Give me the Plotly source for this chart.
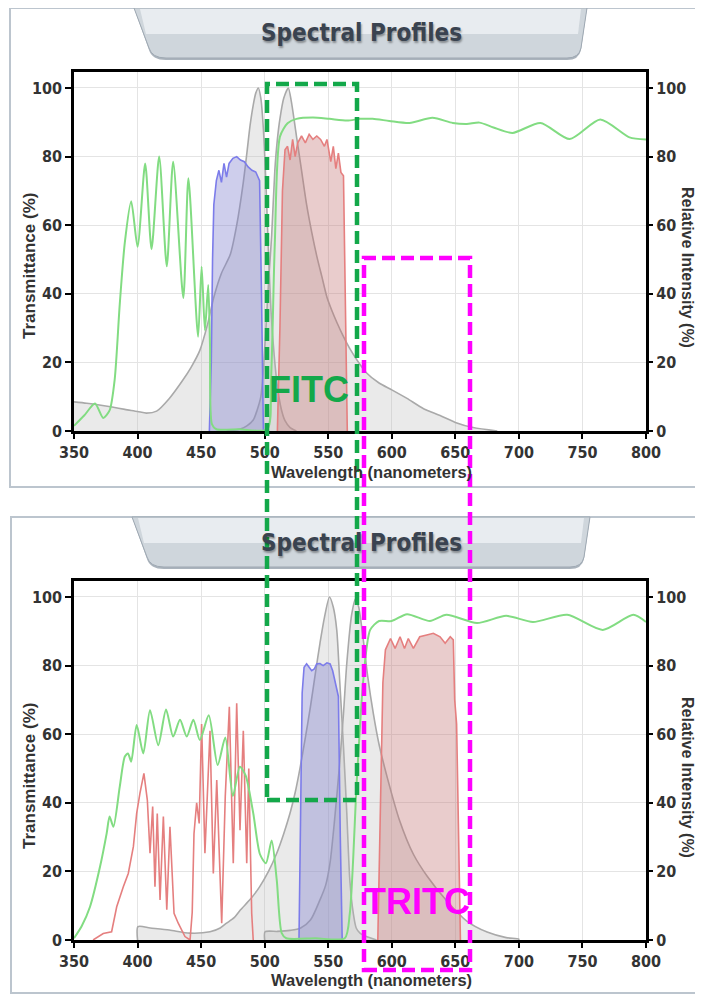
import plotly.graph_objects as go

# the page body adds an 8px margin, so the figure is drawn 8px in from the window corner
OX, OY = 8, 8
W, H = 703 - OX, 996 - OY

# ---------------- data (wavelength nm / percent) ----------------
# top chart: FITC filter set
fitc_abs_nm = [350, 360, 370, 380, 390, 400, 407, 415, 425, 435, 442, 449, 455, 460, 466, 473, 478, 483, 486,
               488.5, 491, 493, 495, 497, 499, 501, 503, 505, 507.5, 510, 513, 516, 520, 525]
fitc_abs_val = [8.5, 8.1, 7.6, 7.0, 6.3, 5.7, 5.2, 5.8, 9.5, 14.5, 18.5, 23.5, 31, 39, 46, 51.5, 60, 72, 81,
                89, 95, 98.5, 100, 97, 88, 72, 52, 35, 22, 13, 6.5, 3, 1, 0]

fitc_em_nm = [470, 480, 486, 491, 494, 497, 499, 501, 503, 505.5, 508, 510, 512, 515, 518.6, 521, 525, 529, 533,
              537, 541, 545, 549, 553, 557, 562, 567, 573, 580, 590, 600, 612, 625, 638, 650, 664, 683]
fitc_em_val = [0, 0.5, 1.5, 3.2, 6, 10, 18, 30, 43, 57, 76, 85, 91, 97, 100, 96, 86, 76, 66,
               58, 51, 45, 39, 35, 31.5, 27.5, 24, 20.5, 17, 14, 12, 9.5, 6.5, 4.5, 2.5, 1, 0]

fitc_ex_nm = [456.5, 458, 459, 460, 462, 464, 466, 468, 470, 472, 475, 478, 481, 484, 487, 490, 493, 496, 497.5, 499]
fitc_ex_val = [0, 20, 50, 66, 73, 76, 72.5, 78, 74, 78, 79.5, 80, 79, 78.5, 77, 76, 75.5, 73, 40, 0]

fitc_bf_nm = [510, 512, 514, 516, 518, 520, 522, 524, 526, 529, 532, 535, 538, 541, 544, 547, 549, 552, 554,
              556, 558, 560, 562, 563.5, 565]
fitc_bf_val = [0, 30, 70, 82, 83, 79, 85, 80, 84, 86, 84, 86.5, 85, 86, 85, 83, 85, 78.5, 83,
               76.5, 81, 75.4, 74.4, 40, 0]

fitc_dm_nm = [350, 358, 366.5, 373, 378, 382, 386, 390, 395, 400, 406, 411, 417, 423, 428, 436, 440, 447.6,
              450.4, 453, 455.6, 457, 458.5, 462, 480, 502, 505, 508, 512, 518, 525, 538, 551, 565, 575, 585,
              598, 614, 632, 648, 659, 669, 680, 695, 717, 740, 764, 787, 800]
fitc_dm_val = [1.5, 4.5, 8, 3.8, 6, 15, 37, 55, 67, 53.7, 78, 53, 80, 48, 78.5, 38.8, 73.7, 27.5,
               47.9, 29.4, 42.6, 25, 2, 0.5, 0.5, 0.5, 15, 55, 85.8, 89.7, 91, 91.4, 91, 90.5, 91, 91,
               90.4, 89.8, 91.3, 89.8, 89.5, 89.9, 88.5, 86.9, 89.8, 85.1, 90.8, 85.6, 85]

# bottom chart: TRITC filter set
tritc_abs_nm = [400, 400.3, 410, 425, 441, 457, 465, 470, 476, 481, 489, 496, 503, 509.5, 515, 520, 524, 528,
                532, 536, 540, 543.5, 547, 551, 554, 556.7, 559, 562, 564.6, 567, 569.7, 572, 575, 580, 588]
tritc_abs_val = [0, 3.9, 3.5, 2.9, 2.0, 2.4, 3.5, 4.9, 6.5, 8.8, 12, 15.5, 20, 25.3, 31, 37, 43, 50.5,
                 59, 68, 78, 86.5, 94, 100, 97, 90.4, 75.8, 56.4, 37, 17.5, 7.8, 3.5, 2, 1, 0]

tritc_em_nm = [500, 500.3, 510, 520, 528, 536, 543.5, 548, 551.4, 555, 559, 562, 564.6, 568.5, 571.5, 574,
               577.6, 581, 585.5, 590, 596, 606, 617, 628, 643, 659, 675, 690, 699.8, 700]
tritc_em_val = [0, 2.4, 2.5, 2.8, 3.4, 5.8, 11.7, 16, 22.4, 35, 51.5, 66, 80.6, 95, 99.5, 97,
                87.5, 77, 66, 57, 48, 35, 25, 18.5, 11.5, 5.5, 2.3, 0.7, 0.3, 0]

tritc_ex_nm = [527, 528, 529.5, 531, 533, 535, 537, 539, 541, 543.5, 546, 549, 551.5, 553.5, 555.3, 557, 558,
               559.5, 561]
tritc_ex_val = [0, 35, 72, 79.5, 80.5, 79.5, 78.5, 79, 80.5, 80.6, 80, 80.8, 80.5, 78.5, 75.8, 73, 71, 30, 0]

tritc_bf_uv_nm = [365, 373, 379.6, 383.6, 388.8, 392.7, 396.7, 399.3, 401.9, 405, 407.7, 409.8, 411.9, 413.7,
                  415.5, 417.7, 420.3, 423, 425.5, 428.7, 432, 437.3, 441.3, 443, 444.4, 446.5, 448.5, 450.4,
                  453, 457, 459.6, 462.3, 466.2, 469, 472.2, 475.3, 478, 480.6, 483.2, 485.9, 487.5, 489.8, 491]
tritc_bf_uv_val = [0, 1.9, 2.4, 9.7, 15.5, 19.4, 27.2, 36.9, 42.8, 48.6, 40.8, 25.3, 38.9, 15.5,
                   36.9, 11.7, 36, 8.8, 33, 7.8, 4.9, 1, 0, 8, 31, 40, 34, 63,
                   25.3, 61, 19.4, 46.6, 4.9, 41.8, 68, 22.4, 69, 32, 61, 22.4, 50, 7.8, 0]

tritc_bf_nm = [589, 591, 593, 595, 599, 602.6, 606.5, 610, 613, 617, 622, 627.5, 632.7, 638, 642, 646, 648.4,
               649.5, 651, 652.4, 654]
tritc_bf_val = [0, 40, 75, 84.6, 87.9, 85, 88.4, 85, 87.9, 85, 88.4, 88.9, 89.4, 88.4, 86.5, 88.4, 87.5,
                70, 63, 34, 0]

tritc_dm_nm = [350, 356, 362.6, 370.5, 375.7, 378, 381, 386, 390, 392.5, 395, 399.3, 404.5, 409.8, 416.3,
               422.4, 428, 433.4, 438.7, 443.9, 449, 456, 463, 469, 475, 480.5, 485, 491, 496.3, 501, 505.5,
               509.5, 513.4, 517, 540, 563, 567, 572.5, 577.6, 583, 590, 600, 612, 630, 643, 667, 690,
               711, 738, 766, 790, 800]
tritc_dm_val = [0.5, 4, 9.7, 21.4, 31.1, 36, 33, 44.7, 53.5, 54.4, 52, 62.7, 54.4, 67, 56.8,
                67.2, 59.3, 64.2, 59.3, 64.2, 58.3, 65.5, 51, 59, 42, 50.5, 48, 37, 25, 22.4, 29,
                17.5, 2, 0.5, 0.5, 0.5, 7.8, 46.6, 75.8, 90.4, 93, 93, 95, 93, 94.8, 92.4, 94.5,
                92.7, 94.8, 90.4, 94.8, 92.7]

x_ticks = [350, 400, 450, 500, 550, 600, 650, 700, 750, 800]
y_ticks = [0, 20, 40, 60, 80, 100]
panel_title = "Spectral Profiles"
x_title = "Wavelength (nanometers)"
y_left_title = "Transmittance (%)"
y_right_title = "Relative Intensity (%)"
label_fitc = "FITC"
label_tritc = "TRITC"

# ---------------- styling ----------------
GRAY_LINE = "#a9a9a9"
GRAY_FILL = "rgba(185,185,185,0.30)"
BLUE_LINE = "#7c7cea"
BLUE_FILL = "rgba(125,125,205,0.38)"
RED_LINE = "#e57f7f"
RED_FILL = "rgba(195,115,115,0.36)"
GREEN_LINE = "#82dc82"
NARROW = "Liberation Sans Narrow, Arial Narrow, DejaVu Sans Condensed, sans-serif"
SANS = "Liberation Sans, Arial, sans-serif"


def PX(x):
    return (x - OX) / W


def PY(y):
    return 1 - (y - OY) / H


fig = go.Figure()


def add(xs, ys, color, xa, ya, fillcolor=None, shape="linear", width=1.6):
    fig.add_trace(go.Scatter(
        x=xs, y=ys, mode="lines", xaxis=xa, yaxis=ya,
        line=dict(color=color, width=width, shape=shape, smoothing=0.7 if shape == "spline" else None),
        fill="tozeroy" if fillcolor else None, fillcolor=fillcolor,
        showlegend=False, hoverinfo="skip"))


# top
add(fitc_abs_nm, fitc_abs_val, GRAY_LINE, "x", "y", GRAY_FILL, "spline")
add(fitc_em_nm, fitc_em_val, GRAY_LINE, "x", "y", GRAY_FILL, "spline")
add(fitc_ex_nm, fitc_ex_val, BLUE_LINE, "x", "y", BLUE_FILL)
add(fitc_bf_nm, fitc_bf_val, RED_LINE, "x", "y", RED_FILL)
add(fitc_dm_nm, fitc_dm_val, GREEN_LINE, "x", "y", None, "spline", 2)
fig.add_trace(go.Scatter(x=[], y=[], xaxis="x", yaxis="y2", showlegend=False))
# bottom
add(tritc_abs_nm, tritc_abs_val, GRAY_LINE, "x2", "y3", GRAY_FILL, "spline")
add(tritc_em_nm, tritc_em_val, GRAY_LINE, "x2", "y3", GRAY_FILL, "spline")
add(tritc_ex_nm, tritc_ex_val, BLUE_LINE, "x2", "y3", BLUE_FILL)
add(tritc_bf_uv_nm, tritc_bf_uv_val, RED_LINE, "x2", "y3", None)
add(tritc_bf_nm, tritc_bf_val, RED_LINE, "x2", "y3", RED_FILL)
add(tritc_dm_nm, tritc_dm_val, GREEN_LINE, "x2", "y3", None, "spline", 2)
fig.add_trace(go.Scatter(x=[], y=[], xaxis="x2", yaxis="y4", showlegend=False))

tickfont = dict(family=NARROW, size=16, color="#333333", weight="bold")
YMAX = 104.66
xdom = [PX(74), PX(646)]
common_x = dict(range=[350, 800], tickvals=x_ticks, showgrid=True, gridcolor="#e4e4e4", gridwidth=1,
                showline=True, linecolor="black", linewidth=2.5, mirror=True, ticks="outside",
                ticklen=5, tickwidth=1.5, tickcolor="black", tickfont=tickfont, zeroline=False,
                automargin=False)
common_y = dict(range=[0, YMAX], tickvals=y_ticks, showgrid=True, gridcolor="#e4e4e4", gridwidth=1,
                showline=True, linecolor="black", linewidth=2.5, mirror=True, ticks="outside",
                ticklen=6, tickwidth=1.5, tickcolor="black", tickfont=tickfont, zeroline=False,
                automargin=False)
right_y = dict(range=[0, YMAX], tickvals=y_ticks, showgrid=False, showline=False, ticks="outside",
               ticklen=6, tickwidth=1.5, tickcolor="black", tickfont=tickfont, zeroline=False, side="right",
               automargin=False)

fig.update_layout(
    width=W, height=H, margin=dict(l=0, r=0, t=0, b=0, pad=0, autoexpand=False),
    paper_bgcolor="white", plot_bgcolor="white", showlegend=False,
    xaxis=dict(domain=xdom, anchor="y", **common_x),
    yaxis=dict(domain=[PY(431), PY(72)], anchor="x", **common_y),
    yaxis2=dict(overlaying="y", anchor="x", **right_y),
    xaxis2=dict(domain=xdom, anchor="y3", **common_x),
    yaxis3=dict(domain=[PY(940), PY(581)], anchor="x2", **common_y),
    yaxis4=dict(overlaying="y3", anchor="x2", **right_y),
)


def pth(cmds):
    out = []
    for c in cmds:
        if c == "Z":
            out.append("Z")
        else:
            op, pts = c[0], c[1:]
            out.append(op + " " + " ".join(f"{PX(x):.5f},{PY(y):.5f}" for x, y in pts))
    return " ".join(out)


shapes = []
# panel frames
for (y0, y1, x0) in [(8, 487, 10), (517, 993, 11)]:
    shapes.append(dict(type="rect", xref="paper", yref="paper", x0=PX(x0), x1=PX(712), y0=PY(y1), y1=PY(y0),
                       line=dict(color="#bcc5ce", width=2), fillcolor="rgba(0,0,0,0)", layer="below"))


def tab(top, xl, xr, bottom):
    base = [("M", (xl, top)), ("L", (xr, top)), ("L", (xr - 6, bottom - 10)),
            ("Q", (xr - 8, bottom), (xr - 20, bottom)), ("L", (xl + 32, bottom)),
            ("Q", (xl + 18, bottom), (xl + 15, bottom - 10)), "Z"]
    shadow = [("M", (xl, top)), ("L", (xr, top)), ("L", (xr - 6, bottom - 8)),
              ("Q", (xr - 8, bottom + 2), (xr - 20, bottom + 2)), ("L", (xl + 32, bottom + 2)),
              ("Q", (xl + 18, bottom + 2), (xl + 15, bottom - 8)), "Z"]
    hi = [("M", (xl + 6, top + 1)), ("L", (xr - 6, top + 1)), ("L", (xr - 9, top + 26)),
          ("L", (xl + 12, top + 26)), "Z"]
    return [
        dict(type="path", xref="paper", yref="paper", path=pth(shadow), fillcolor="#aab3bc",
             line=dict(width=0), layer="below"),
        dict(type="path", xref="paper", yref="paper", path=pth(base), fillcolor="#cfd6dc",
             line=dict(color="#9fa9b3", width=1), layer="below"),
        dict(type="path", xref="paper", yref="paper", path=pth(hi), fillcolor="rgba(236,240,243,0.85)",
             line=dict(width=0), layer="below"),
    ]


shapes += tab(8, 134, 587, 58)
shapes += tab(517, 132, 590, 567)

# FITC / TRITC dashed boxes
shapes.append(dict(type="rect", xref="paper", yref="paper", x0=PX(267), x1=PX(357), y0=PY(800), y1=PY(84),
                   line=dict(color="#13a84a", width=4.5, dash="13px,6px"), fillcolor="rgba(0,0,0,0)",
                   layer="above"))
shapes.append(dict(type="rect", xref="paper", yref="paper", x0=PX(364), x1=PX(470), y0=PY(970), y1=PY(258),
                   line=dict(color="#ff00ff", width=4.5, dash="13px,6px"), fillcolor="rgba(0,0,0,0)",
                   layer="above"))
fig.update_layout(shapes=shapes)

ann = []


def A(text, x, y, size, color, family, angle=0, shadow=None):
    f = dict(size=size, color=color, family=family, weight="bold")
    if shadow:
        f["shadow"] = shadow
    ann.append(dict(text=text, x=PX(x), y=PY(y), xref="paper", yref="paper", showarrow=False,
                    xanchor="center", yanchor="middle", textangle=angle, font=f))


for (ty, ly, xy) in [(33, 266, 472), (543, 776, 980)]:
    A(panel_title, 361, ty, 24, "#3a4350", NARROW, shadow="1px 2px 2px rgba(0,0,0,0.35)")
    A(y_left_title, 29, ly, 17, "#333333", SANS, -90)
    A(y_right_title, 688, ly + 1, 16, "#333333", SANS, 90)
    A(x_title, 371, xy, 16.5, "#333333", SANS)

A(label_fitc, 309, 389, 36, "#13a84a", SANS)
A(label_tritc, 417, 901, 36, "#ff00ff", SANS)
fig.update_layout(annotations=ann)

fig.write_html("out.html")
